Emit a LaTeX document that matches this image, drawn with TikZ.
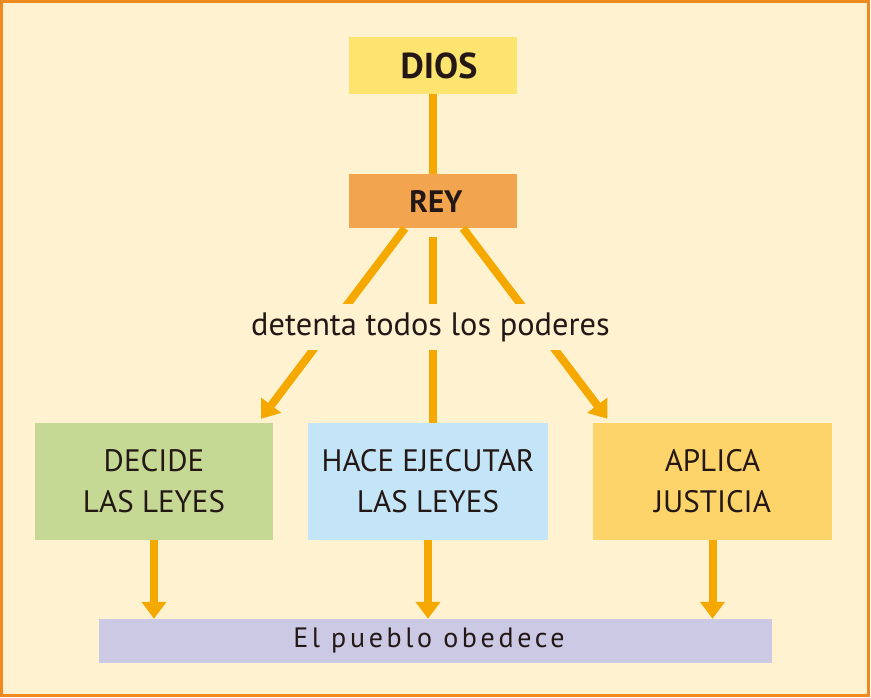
\documentclass[tikz,border=0pt]{standalone}
\usepackage{fontspec}
\setmainfont{PT Sans}
\usetikzlibrary{arrows.meta}
\definecolor{bg}{HTML}{FEF2D0}
\definecolor{frame}{HTML}{EE8A1E}
\definecolor{conncol}{HTML}{F5A900}
\definecolor{diosfill}{HTML}{FDE46E}
\definecolor{reyfill}{HTML}{F3A44E}
\definecolor{greenfill}{HTML}{C5D995}
\definecolor{bluefill}{HTML}{C4E5F7}
\definecolor{aplicafill}{HTML}{FDD46A}
\definecolor{lavfill}{HTML}{CCC9E5}
\definecolor{ink}{HTML}{231815}
\begin{document}
\begin{tikzpicture}[x=1pt,y=-1pt,
  boxnode/.style={rectangle, inner sep=0pt, align=center, text=ink},
  topbox/.style={boxnode, minimum width=168pt, font=\bfseries\fontsize{36}{40}\selectfont},
  powerbox/.style={boxnode, minimum height=117pt, font=\fontsize{31}{41}\selectfont},
  conn/.style={draw=conncol, line width=8pt},
  arr/.style={conn, -{Triangle[width=24pt,length=17pt]}}
]
\useasboundingbox (0,0) rectangle (871,698);
\fill[white] (0,0) rectangle (871,698);
\fill[bg] (1.5,1.5) rectangle (868,695.5);
\draw[frame, line width=3pt] (1.5,1.5) rectangle (868,695.5);

\node[topbox, fill=diosfill, minimum height=57pt] (dios) at (433,65.5) {\hspace*{12pt}DIOS};
\node[topbox, fill=reyfill, minimum height=54pt, font=\bfseries\fontsize{31}{36}\selectfont] (rey) at (433,201) {\hspace*{6pt}REY};
\node[powerbox, fill=greenfill, minimum width=238pt] (decide) at (154,481.5) {DECIDE\\LAS LEYES};
\node[powerbox, fill=bluefill, minimum width=240pt] (hace) at (428,481.5) {HACE EJECUTAR\\LAS LEYES};
\node[powerbox, fill=aplicafill, minimum width=239pt] (aplica) at (712.5,481.5) {APLICA\\JUSTICIA};
\node[boxnode, fill=lavfill, minimum width=673pt, minimum height=44pt] (pueblo) at (435.5,641) {};
\node[text=ink, inner sep=0pt, font=\addfontfeature{LetterSpace=13}\fontsize{28}{32}\selectfont] (pueblotxt) at (429,640) {El pueblo obedece};

\draw[conn] (dios.south) -- (rey.north);
\draw[arr, shorten >=5pt] ([xshift=-28pt]rey.south) -- ([xshift=104pt]decide.north);
\draw[arr, shorten >=5pt] ([xshift=30pt]rey.south) -- ([xshift=-102pt]aplica.north);
\draw[conn] ([yshift=-9pt]rey.south) -- (rey.south |- hace.north);

\node[fill=bg, text=ink, inner xsep=6pt, minimum height=46pt, font=\fontsize{32.4}{36}\selectfont] (poder) at (430.5,327) {detenta todos los poderes};

\draw[arr] (decide.south) -- (decide.south |- pueblo.north);
\draw[arr] (hace.south) -- (hace.south |- pueblo.north);
\draw[arr] (aplica.south) -- (aplica.south |- pueblo.north);
\end{tikzpicture}
\end{document}
